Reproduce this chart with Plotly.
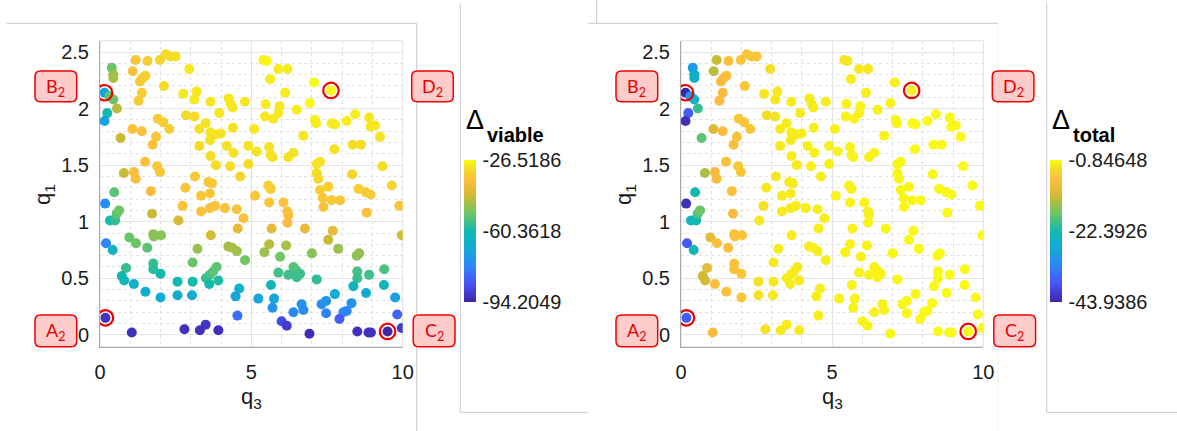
import plotly.graph_objects as go

W, H = 1177, 431

# ---------------- data ----------------
q3 = [
    0.39, 0.44, 0.44, 0.15, 0.31, 0.44, 0.24, 0.15, 0.56, 0.68,
    0.17, 0.47, 0.33, 0.50, 0.55, 0.63, 0.20, 0.42, 0.18,
    1.08, 1.18, 1.57, 1.32, 1.41, 1.50, 1.38, 1.27, 1.98, 2.18,
    2.33, 2.50, 2.11, 1.91, 2.09, 2.29, 1.07, 1.38, 1.74, 1.85,
    0.79, 1.12, 1.18, 1.49, 1.89, 1.98, 1.68, 1.72, 0.97, 1.19,
    1.56, 1.76, 2.02, 1.78, 0.86, 0.72, 0.80, 1.12, 1.50, 1.76,
    1.76, 2.00, 2.00, 1.05,
    2.95, 2.75, 3.19, 3.12, 3.65, 4.25, 4.32, 4.38, 4.79, 3.94,
    2.84, 3.12, 3.49, 3.28, 3.65, 3.80, 3.99, 4.39, 3.28, 3.63,
    3.65, 3.83, 4.19, 4.41, 4.30, 4.90, 4.90, 4.63, 2.82, 3.14,
    2.73, 3.34, 3.63, 3.34, 3.58, 3.70, 3.63, 3.80, 4.13, 4.52,
    4.74, 4.55, 3.66, 2.59, 4.24, 4.37, 4.52, 4.79, 3.22, 3.06,
    3.50, 3.63, 3.74, 3.85, 3.61, 3.91, 2.56, 2.56, 3.04, 3.06,
    4.60, 4.48, 4.54, 3.91, 3.49, 3.30, 2.79,
    5.51, 5.40, 5.62, 5.89, 6.19, 6.12, 6.50, 7.07, 6.93, 7.63,
    5.47, 5.45, 5.73, 5.89, 5.93, 5.09, 5.18, 5.59, 5.64, 5.70,
    6.22, 6.39, 6.72, 7.10, 7.14, 7.16, 7.27, 7.16, 7.21, 7.27,
    7.36, 7.38, 7.54, 7.65, 5.56, 5.64, 5.12, 5.59, 6.06, 6.19,
    6.22, 6.19, 5.67, 6.77, 5.59, 5.43, 6.15, 5.95, 6.39, 6.48,
    5.89, 6.22, 6.50, 6.61, 7.00, 7.16, 5.65, 5.75, 5.70, 5.23,
    6.39, 6.66, 6.72, 6.00, 6.17, 6.92, 7.32, 7.47, 7.47, 7.76,
    7.74, 7.65, 7.76, 8.15, 8.43, 8.89, 8.94, 9.09, 9.25, 9.33,
    9.64, 9.89, 9.97, 8.33, 8.35, 8.62, 8.54, 8.78, 8.94, 8.81,
    7.93, 7.69, 7.54, 7.87, 8.48, 8.56, 8.50, 8.50, 8.89, 9.39,
    9.38, 8.37, 8.79, 9.75, 8.31, 8.15, 8.04, 7.91, 9.82, 9.97,
    9.50, 8.95, 8.87, 8.50,
]
q1 = [
    2.36, 2.30, 2.27, 2.14, 2.11, 2.08, 1.96, 1.89, 2.00, 1.74,
    1.16, 1.26, 1.01, 1.01, 1.07, 1.10, 0.81, 0.75, 0.15,
    2.33, 2.43, 2.42, 2.24, 2.27, 2.29, 2.14, 2.07, 2.43, 2.48,
    2.46, 2.46, 2.20, 1.91, 1.88, 1.82, 1.82, 1.80, 1.68, 1.75,
    1.43, 1.44, 1.38, 1.53, 1.49, 1.44, 1.27, 1.07, 0.86, 0.81,
    0.77, 0.89, 0.88, 0.87, 0.59, 0.52, 0.48, 0.45, 0.38, 0.63,
    0.58, 0.54, 0.33, 0.02,
    2.35, 2.13, 2.15, 2.08, 2.06, 2.09, 2.04, 2.01, 2.06, 1.96,
    1.94, 1.93, 1.87, 1.82, 1.79, 1.77, 1.78, 1.83, 1.67, 1.72,
    1.58, 1.50, 1.67, 1.61, 1.49, 1.67, 1.51, 1.40, 1.30, 1.40,
    1.14, 1.23, 1.25, 1.09, 1.35, 1.34, 1.12, 1.14, 1.12, 1.11,
    1.03, 0.94, 0.88, 1.01, 0.78, 0.77, 0.74, 0.66, 0.76, 0.64,
    0.50, 0.53, 0.56, 0.60, 0.45, 0.48, 0.47, 0.35, 0.35, 0.47,
    0.41, 0.34, 0.17, 0.04, 0.09, 0.04, 0.05,
    2.42, 2.43, 2.26, 2.35, 2.35, 2.14, 1.99, 2.23, 2.05, 2.16,
    2.04, 1.93, 1.91, 1.96, 2.02, 1.82, 1.62, 1.66, 1.59, 1.57,
    1.57, 1.61, 1.76, 1.90, 1.87, 1.51, 1.53, 1.43, 1.38, 1.28,
    1.21, 1.13, 1.31, 1.19, 1.32, 1.29, 1.23, 1.17, 1.17, 1.09,
    1.06, 0.99, 0.94, 0.94, 0.80, 0.73, 0.79, 0.69, 0.60, 0.57,
    0.55, 0.53, 0.51, 0.54, 0.72, 0.49, 0.44, 0.32, 0.24, 0.32,
    0.20, 0.27, 0.22, 0.12, 0.08, 0.01, 0.27, 0.30, 0.19, 0.36,
    1.64, 1.87, 1.86, 1.89, 1.95, 1.92, 1.84, 1.85, 1.75, 1.49,
    1.32, 1.14, 0.88, 1.42, 1.68, 1.68, 1.29, 1.26, 1.24, 1.08,
    1.19, 0.92, 0.84, 0.76, 0.70, 0.72, 0.56, 0.50, 0.53, 0.58,
    0.44, 0.43, 0.37, 0.33, 0.28, 0.21, 0.20, 0.14, 0.18, 0.06,
    0.03, 0.02, 0.02, 0.03,
]
delta_viable = [
    -52.24, -48.18, -46.82, -70.50, -53.59, -52.24, -60.36, -70.50, -45.47, -44.12,
    -75.25, -53.59, -60.36, -56.98, -53.59, -52.24, -77.30, -63.75, -91.50,
    -35.32, -34.64, -33.29, -33.29, -33.29, -33.29, -33.29, -33.96, -31.93, -30.58,
    -30.58, -30.58, -30.58, -33.29, -33.29, -33.29, -35.32, -35.32, -35.32, -34.64,
    -44.12, -36.00, -36.00, -35.32, -34.64, -34.64, -37.35, -44.12, -52.24, -52.24,
    -53.59, -49.53, -49.53, -49.53, -56.98, -60.36, -61.72, -65.78, -67.13, -56.98,
    -58.33, -60.36, -68.48, -92.17,
    -29.23, -29.23, -29.23, -29.23, -29.23, -29.23, -29.23, -29.23, -29.23, -29.23,
    -31.26, -30.58, -29.90, -29.90, -29.90, -29.90, -29.90, -29.90, -30.58, -29.90,
    -30.58, -30.58, -29.90, -29.90, -30.58, -29.90, -30.58, -31.93, -34.64, -34.64,
    -35.32, -34.64, -34.64, -35.32, -34.64, -34.64, -35.32, -35.32, -35.32, -35.32,
    -36.00, -40.06, -42.76, -42.09, -46.82, -46.82, -47.50, -51.56, -48.18, -52.24,
    -56.98, -55.62, -53.59, -53.59, -60.36, -59.01, -60.36, -67.13, -67.13, -60.36,
    -65.78, -69.84, -80.70, -92.17, -90.82, -92.17, -92.17,
    -26.52, -27.87, -28.55, -28.55, -28.55, -28.55, -28.55, -26.52, -27.20, -26.52,
    -28.55, -29.23, -29.23, -29.23, -29.23, -29.23, -29.90, -29.90, -29.90, -29.90,
    -29.90, -29.90, -29.23, -28.55, -28.55, -29.90, -29.90, -30.58, -31.26, -33.29,
    -34.64, -35.32, -33.29, -34.64, -33.29, -33.29, -34.64, -34.64, -35.32, -35.32,
    -36.00, -36.67, -40.06, -40.06, -45.47, -48.18, -46.82, -51.56, -53.59, -54.95,
    -55.62, -56.30, -56.98, -56.30, -49.53, -57.65, -62.39, -69.84, -73.90, -69.84,
    -75.93, -73.90, -75.93, -87.40, -90.14, -92.85, -75.25, -73.90, -77.30, -68.48,
    -29.90, -28.55, -28.55, -28.55, -28.55, -29.23, -29.23, -29.23, -29.90, -30.58,
    -31.93, -34.64, -42.76, -31.93, -30.58, -30.58, -33.29, -33.29, -33.96, -36.00,
    -34.64, -40.06, -44.12, -48.18, -48.86, -48.86, -55.62, -56.98, -56.30, -54.95,
    -62.39, -63.07, -67.13, -70.50, -73.90, -77.30, -77.30, -84.05, -82.70, -90.14,
    -94.20, -92.17, -92.17, -92.17,
]
delta_total = [
    -29.72, -26.70, -25.84, -43.94, -31.01, -25.84, -37.47, -42.65, -20.24, -18.08,
    -42.65, -22.39, -24.55, -22.39, -18.95, -17.22, -37.90, -23.25, -37.47,
    -12.91, -12.05, -6.88, -7.74, -7.31, -6.88, -7.31, -7.31, -6.02, -6.02,
    -6.02, -6.02, -6.02, -6.02, -6.02, -6.02, -10.33, -7.31, -6.88, -6.45,
    -13.77, -7.74, -7.74, -6.88, -6.02, -6.02, -6.88, -7.31, -9.47, -6.88,
    -6.88, -6.45, -6.45, -6.45, -9.47, -11.62, -11.62, -6.88, -6.45, -6.45,
    -6.45, -6.02, -6.02, -7.74,
    -3.40, -2.60, -2.60, -2.60, -2.20, -2.20, -2.20, -2.20, -2.20, -2.20,
    -3.40, -3.00, -2.20, -2.20, -2.20, -2.20, -2.20, -1.90, -2.20, -2.20,
    -2.20, -2.20, -1.90, -1.90, -1.90, -1.90, -1.90, -1.90, -2.60, -2.60,
    -3.00, -2.20, -2.20, -2.20, -2.20, -2.20, -2.20, -2.20, -1.90, -1.90,
    -1.90, -1.90, -2.20, -2.60, -1.90, -1.90, -1.90, -1.90, -2.20, -2.60,
    -2.20, -2.20, -2.20, -2.20, -2.20, -2.20, -3.00, -3.00, -2.60, -2.60,
    -1.90, -1.90, -1.90, -2.20, -2.20, -2.20, -3.00,
    -2.60, -2.60, -2.20, -2.60, -2.60, -1.90, -1.60, -1.90, -1.60, -1.60,
    -1.60, -1.60, -1.60, -1.60, -1.60, -1.60, -1.60, -1.60, -1.60, -1.60,
    -1.60, -1.60, -1.60, -1.30, -1.30, -1.30, -1.30, -1.30, -1.30, -1.30,
    -1.30, -1.30, -1.30, -1.30, -1.60, -1.60, -1.60, -1.60, -1.60, -1.60,
    -1.60, -1.60, -1.60, -1.30, -1.60, -1.60, -1.60, -1.60, -1.60, -1.60,
    -1.60, -1.60, -1.60, -1.60, -1.30, -1.30, -1.60, -1.60, -1.60, -1.60,
    -1.60, -1.60, -1.60, -1.60, -1.60, -1.30, -1.30, -1.30, -1.30, -1.30,
    -1.10, -1.10, -1.10, -1.10, -1.10, -1.10, -1.10, -1.10, -1.10, -1.10,
    -1.10, -1.10, -1.10, -1.10, -1.10, -1.10, -1.10, -1.10, -1.10, -1.10,
    -1.10, -1.10, -1.10, -1.10, -1.10, -1.10, -1.10, -1.10, -1.10, -1.10,
    -1.10, -1.10, -1.10, -1.10, -1.10, -1.10, -1.10, -1.10, -1.10, -1.10,
    -0.85, -1.10, -1.10, -1.10,
]

viable_tickvals = [-94.2049, -60.3618, -26.5186]
viable_ticktext = ["-94.2049", "-60.3618", "-26.5186"]
total_tickvals = [-43.9386, -22.3926, -0.84648]
total_ticktext = ["-43.9386", "-22.3926", "-0.84648"]

corner_names = ["A", "B", "C", "D"]
corner_q3 = [0.18, 0.15, 9.50, 7.63]
corner_q1 = [0.15, 2.14, 0.03, 2.16]

x_ticks = [0, 5, 10]
y_ticks = [0, 0.5, 1, 1.5, 2, 2.5]

# ---------------- styling / layout ----------------
parula = [
    [0.0, "#3e26a8"], [0.125, "#4752f4"], [0.25, "#2e84fa"], [0.375, "#12aad6"],
    [0.5, "#12b9af"], [0.625, "#6dc565"], [0.75, "#d0bb33"], [0.85, "#fcbb3e"],
    [0.93, "#f4d82a"], [1.0, "#f9fb14"],
]
FONT = "Liberation Sans, Arial, Helvetica, sans-serif"
TXT = "#1a1a1a"


def px(x):
    return x / W


def py(y):
    return 1 - y / H


PLOT_TOP, PLOT_BOT = 40.7, 346.7
panels = [
    dict(x0=100.0, x1=402.7, xa="x", ya="y", vals=delta_viable, tv=viable_tickvals,
         tt=viable_ticktext, cb_x=464.0, sub="viable"),
    dict(x0=681.0, x1=983.3, xa="x2", ya="y2", vals=delta_total, tv=total_tickvals,
         tt=total_ticktext, cb_x=1050.0, sub="total"),
]

fig = go.Figure()
shapes = []
annotations = []


def rrect(x0, y0, x1, y1, r=5.0):
    return (f"M {px(x0 + r)},{py(y0)} L {px(x1 - r)},{py(y0)} "
            f"Q {px(x1)},{py(y0)} {px(x1)},{py(y0 + r)} "
            f"L {px(x1)},{py(y1 - r)} Q {px(x1)},{py(y1)} {px(x1 - r)},{py(y1)} "
            f"L {px(x0 + r)},{py(y1)} Q {px(x0)},{py(y1)} {px(x0)},{py(y1 - r)} "
            f"L {px(x0)},{py(y0 + r)} Q {px(x0)},{py(y0)} {px(x0 + r)},{py(y0)} Z")


axis_common = dict(
    showgrid=True, gridcolor="#e4e4e4", gridwidth=1, zeroline=False,
    showline=True, linecolor="#a8a8a8", linewidth=1, mirror=False, automargin=False,
    ticks="", tickfont=dict(family=FONT, size=20, color=TXT),
)

layout_axes = {}
for i, p in enumerate(panels):
    vmin, vmid, vmax = p["tv"]
    fig.add_trace(go.Scatter(
        x=q3, y=q1, mode="markers", xaxis=p["xa"], yaxis=p["ya"], showlegend=False,
        hoverinfo="skip",
        marker=dict(
            size=10, color=p["vals"], colorscale=parula, cmin=vmin, cmax=vmax,
            line=dict(width=0), showscale=True,
            colorbar=dict(
                x=px(p["cb_x"]), xanchor="left", y=py((159.3 + 301.7) / 2), yanchor="middle",
                len=(301.7 - 159.3) / H, lenmode="fraction", thickness=11.5,
                thicknessmode="pixels", xpad=0, ypad=0, outlinewidth=0,
                tickvals=p["tv"], ticktext=p["tt"], ticks="outside", ticklen=3,
                tickcolor="rgba(0,0,0,0)",
                tickfont=dict(family=FONT, size=20, color=TXT),
            ),
        ),
    ))
    fig.add_trace(go.Scatter(
        x=corner_q3, y=corner_q1, mode="markers", xaxis=p["xa"], yaxis=p["ya"],
        showlegend=False, hoverinfo="skip",
        marker=dict(symbol="circle-open", size=15.5, color="#f00000", line=dict(width=2.2)),
    ))

    sfx = "" if i == 0 else "2"
    layout_axes["xaxis" + sfx] = dict(
        axis_common, domain=[px(p["x0"]), px(p["x1"])], range=[0, 10],
        tickvals=x_ticks, anchor="y" + sfx, ticklabelstandoff=7,
        minor=dict(dtick=1, tick0=0, showgrid=True, gridcolor="#e2e2e2",
                   griddash="dot", gridwidth=1),
    )
    layout_axes["yaxis" + sfx] = dict(
        axis_common, domain=[py(PLOT_BOT), py(PLOT_TOP)], range=[-0.105, 2.6],
        tickvals=y_ticks, anchor="x" + sfx, ticklabelstandoff=6,
        minor=dict(dtick=0.1, tick0=0, showgrid=True, gridcolor="#e2e2e2",
                   griddash="dot", gridwidth=1),
    )

    # light top/right box edges
    shapes.append(dict(type="rect", xref="paper", yref="paper",
                       x0=px(p["x0"]), x1=px(p["x1"]), y0=py(PLOT_BOT), y1=py(PLOT_TOP),
                       line=dict(color="#e0e0e0", width=1), layer="below"))

    # axis titles
    annotations.append(dict(text="q<sub>3</sub>", xref="paper", yref="paper",
                            x=px((p["x0"] + p["x1"]) / 2), y=py(398), showarrow=False,
                            xanchor="center", yanchor="middle",
                            font=dict(family=FONT, size=22, color=TXT)))
    annotations.append(dict(text="q<sub>1</sub>", xref="paper", yref="paper",
                            x=px(p["x0"] - 56), y=py(195), showarrow=False, textangle=-90,
                            xanchor="center", yanchor="middle",
                            font=dict(family=FONT, size=22, color=TXT)))

    # colorbar title
    annotations.append(dict(text="Δ", xref="paper", yref="paper", x=px(p["cb_x"]),
                            y=py(120), showarrow=False, xanchor="left", yanchor="middle",
                            font=dict(family=FONT, size=27, color="#000000")))
    annotations.append(dict(text="<b>%s</b>" % p["sub"], xref="paper", yref="paper",
                            x=px(p["cb_x"] + 21), y=py(135), showarrow=False,
                            xanchor="left", yanchor="middle",
                            font=dict(family=FONT, size=20, color="#000000")))

    # corner label boxes
    boxes = {
        "A": (p["x0"] - 65, 315.0, p["x0"] - 23.3, 346.7),
        "B": (p["x0"] - 65, 71.0, p["x0"] - 23.3, 101.7),
        "C": (p["x1"] + 10.5, 315.0, p["x1"] + 52.3, 346.7),
        "D": (p["x1"] + 9.0, 71.0, p["x1"] + 50.6, 101.7),
    }
    for name in corner_names:
        bx0, by0, bx1, by1 = boxes[name]
        shapes.append(dict(type="path", xref="paper", yref="paper",
                           path=rrect(bx0, by0, bx1, by1, 5.5),
                           fillcolor="#ffcccc", line=dict(color="#f00000", width=1.5),
                           layer="above"))
        annotations.append(dict(text="%s<sub>2</sub>" % name, xref="paper", yref="paper",
                                x=px((bx0 + bx1) / 2), y=py((by0 + by1) / 2 + 1),
                                showarrow=False, xanchor="center", yanchor="middle",
                                font=dict(family="Lato, Open Sans, sans-serif", size=18,
                                          color="#e60000")))

# frame lines of the original figure windows
frame = "#c8c8c8"
segments = [
    (6.7, 23.3, 416.7, 23.3, frame), (416.7, 23.3, 416.7, 431, frame),
    (460.3, 3.3, 460.3, 412.3, frame), (460.3, 412.3, 588.3, 412.3, frame),
    (596.7, 0, 596.7, 23.3, frame), (588.3, 23.3, 998.0, 23.3, frame),
    (998.0, 23.3, 998.0, 431, "#f1f1f1"),
    (1046.7, 3.3, 1046.7, 412.3, frame), (1046.7, 412.3, 1177, 412.3, frame),
]
for x0, y0, x1, y1, c in segments:
    shapes.append(dict(type="line", xref="paper", yref="paper", x0=px(x0), y0=py(y0),
                       x1=px(x1), y1=py(y1), line=dict(color=c, width=1), layer="below"))

fig.update_layout(
    width=W, height=H, margin=dict(l=0, r=0, t=0, b=0, autoexpand=False),
    paper_bgcolor="white", plot_bgcolor="white", hovermode=False,
    shapes=shapes, annotations=annotations, **layout_axes,
)

fig.write_html(
    "out.html",
    config={"displayModeBar": False, "staticPlot": True},
    post_script="document.body.style.margin='0';document.body.style.padding='0';"
                "document.body.style.overflow='hidden';",
)
